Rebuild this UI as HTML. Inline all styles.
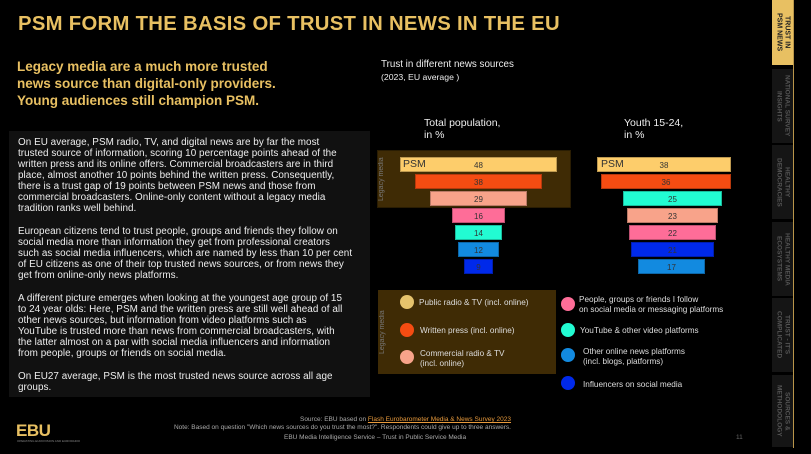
<!DOCTYPE html>
<html><head><meta charset="utf-8"><style>
*{margin:0;padding:0;box-sizing:border-box}
body{width:811px;height:454px;background:#000;position:relative;overflow:hidden;font-family:"Liberation Sans",sans-serif;color:#fff}
.a{position:absolute;white-space:nowrap}
.t{font-size:9.9px;line-height:11px;color:#eee;letter-spacing:.05px}
.bar{position:absolute;height:15px;font-size:8px;color:#333;text-align:center;line-height:15px;border:1px solid rgba(0,0,0,.25)}
.dot{position:absolute;width:14px;height:14px;border-radius:50%}
.lg{position:absolute;font-size:8.2px;line-height:9.5px;color:#ddd;white-space:nowrap}
.tab{position:absolute;left:772px;width:21px;background:#151515;writing-mode:vertical-rl;font-size:6.5px;line-height:8px;color:#555;font-weight:bold;text-align:center;display:flex;align-items:center;justify-content:center}
</style></head><body>
<div class="a" style="left:18px;top:13px;font-size:20.3px;font-weight:bold;color:#e8c062;letter-spacing:.3px">PSM FORM THE BASIS OF TRUST IN NEWS IN THE EU</div>
<div class="a" style="left:17px;top:58px;font-size:13.5px;line-height:17px;font-weight:bold;color:#e8c062">Legacy media are a much more trusted<br>news source than digital-only providers.<br>Young audiences still champion PSM.</div>

<div class="a" style="left:9px;top:131px;width:361px;height:266px;background:#111"></div>
<div class="a t" style="left:18px;top:137px">On EU average, PSM radio, TV, and digital news are by far the most<br>trusted source of information, scoring 10 percentage points ahead of the<br>written press and its online offers. Commercial broadcasters are in third<br>place, almost another 10 points behind the written press. Consequently,<br>there is a trust gap of 19 points between PSM news and those from<br>commercial broadcasters. Online-only content without a legacy media<br>tradition ranks well behind.</div>
<div class="a t" style="left:18px;top:226px">European citizens tend to trust people, groups and friends they follow on<br>social media more than information they get from professional creators<br>such as social media influencers, which are named by less than 10 per cent<br>of EU citizens as one of their top trusted news sources, or from news they<br>get from online-only news platforms.</div>
<div class="a t" style="left:18px;top:293px">A different picture emerges when looking at the youngest age group of 15<br>to 24 year olds: Here, PSM and the written press are still well ahead of all<br>other news sources, but information from video platforms such as<br>YouTube is trusted more than news from commercial broadcasters, with<br>the latter almost on a par with social media influencers and information<br>from people, groups or friends on social media.</div>
<div class="a t" style="left:18px;top:371px">On EU27 average, PSM is the most trusted news source across all age<br>groups.</div>

<div class="a" style="left:381px;top:59px;font-size:9.8px;line-height:12px;color:#eee">Trust in different news sources<br><span style="font-size:8.7px">(2023, EU average )</span></div>
<div class="a" style="left:424px;top:117px;font-size:10.5px;line-height:12px;color:#eee">Total population,<br>in %</div>
<div class="a" style="left:624px;top:117px;font-size:10.5px;line-height:12px;color:#eee">Youth 15-24,<br>in %</div>

<div class="a" style="left:377px;top:150px;width:194px;height:58px;background:#3f2b05;border:1px solid #2a1d03"></div>
<div class="a" style="left:378px;top:150px;width:10px;height:58px;writing-mode:vertical-rl;transform:rotate(180deg);font-size:7px;color:#777;text-align:center">Legacy media</div>

<div class="bar" style="left:400px;top:157px;width:157px;background:#fdcd6b">48</div>
<div class="a" style="left:403px;top:157px;font-size:10.5px;color:#333;line-height:15px">PSM</div>
<div class="bar" style="left:415px;top:174px;width:127px;background:#f54c12">38</div>
<div class="bar" style="left:430px;top:191px;width:97px;background:#f8a38a">29</div>
<div class="bar" style="left:452px;top:208px;width:53px;background:#fe6d98">16</div>
<div class="bar" style="left:455px;top:225px;width:47px;background:#22fbd2">14</div>
<div class="bar" style="left:458px;top:242px;width:41px;background:#128ae0">12</div>
<div class="bar" style="left:464px;top:259px;width:29px;background:#0029ea">9</div>

<div class="bar" style="left:597px;top:157px;width:134px;background:#fdcd6b">38</div>
<div class="a" style="left:601px;top:157px;font-size:10.5px;color:#333;line-height:15px">PSM</div>
<div class="bar" style="left:601px;top:174px;width:130px;background:#f54c12">36</div>
<div class="bar" style="left:623px;top:191px;width:99px;background:#22fbd2">25</div>
<div class="bar" style="left:627px;top:208px;width:91px;background:#f8a38a">23</div>
<div class="bar" style="left:629px;top:225px;width:87px;background:#fe6d98">22</div>
<div class="bar" style="left:631px;top:242px;width:83px;background:#0029ea">21</div>
<div class="bar" style="left:638px;top:259px;width:67px;background:#128ae0">17</div>

<div class="a" style="left:378px;top:290px;width:178px;height:84px;background:#3f2b05"></div>
<div class="a" style="left:379px;top:290px;width:10px;height:84px;writing-mode:vertical-rl;transform:rotate(180deg);font-size:7px;color:#777;text-align:center">Legacy media</div>
<div class="dot" style="left:400px;top:295px;background:#e6c36c"></div><div class="lg" style="left:419px;top:298px">Public radio &amp; TV (incl. online)</div>
<div class="dot" style="left:400px;top:323px;background:#f54c12"></div><div class="lg" style="left:420px;top:326px">Written press (incl. online)</div>
<div class="dot" style="left:400px;top:350px;background:#f8a38a"></div><div class="lg" style="left:420px;top:349px">Commercial radio &amp; TV<br>(incl. online)</div>
<div class="dot" style="left:561px;top:297px;background:#fe6d98"></div><div class="lg" style="left:579px;top:295px">People, groups or friends I follow<br>on social media or messaging platforms</div>
<div class="dot" style="left:561px;top:323px;background:#22fbd2"></div><div class="lg" style="left:580px;top:326px">YouTube &amp; other video platforms</div>
<div class="dot" style="left:561px;top:348px;background:#128ae0"></div><div class="lg" style="left:583px;top:347px">Other online news platforms<br>(incl. blogs, platforms)</div>
<div class="dot" style="left:561px;top:376px;background:#0029ea"></div><div class="lg" style="left:583px;top:380px">Influencers on social media</div>

<div class="a" style="left:16px;top:421px;font-size:17px;font-weight:bold;color:#e8c062;letter-spacing:-.5px">EBU</div>
<div class="a" style="left:17px;top:439px;font-size:3px;color:#888">OPERATING EUROVISION AND EURORADIO</div>
<div class="a" style="right:300px;top:416px;font-size:6.5px;line-height:8px;color:#aaa;text-align:right">Source: EBU based on <span style="color:#e89a3c;text-decoration:underline">Flash Eurobarometer Media &amp; News Survey 2023</span><br>Note: Based on question "Which news sources do you trust the most?". Respondents could give up to three answers.</div>
<div class="a" style="left:284px;top:434px;font-size:6.5px;color:#aaa">EBU Media Intelligence Service – Trust in Public Service Media</div>
<div class="a" style="left:736px;top:434px;font-size:6.5px;color:#666">11</div>

<div class="a" style="left:793px;top:0;width:1px;height:448px;background:#b8954a"></div>
<div class="tab" style="top:0;height:65px;background:#e8c062;color:#222;font-size:7px">TRUST IN<br>PSM NEWS</div>
<div class="tab" style="top:69px;height:74px">NATIONAL SURVEY<br>INSIGHTS</div>
<div class="tab" style="top:145px;height:74px">HEALTHY<br>DEMOCRACIES</div>
<div class="tab" style="top:222px;height:74px">HEALTHY MEDIA<br>ECOSYSTEMS</div>
<div class="tab" style="top:298px;height:74px">TRUST - IT'S<br>COMPLICATED</div>
<div class="tab" style="top:375px;height:72px">SOURCES &amp;<br>METHODOLOGY</div>
</body></html>
